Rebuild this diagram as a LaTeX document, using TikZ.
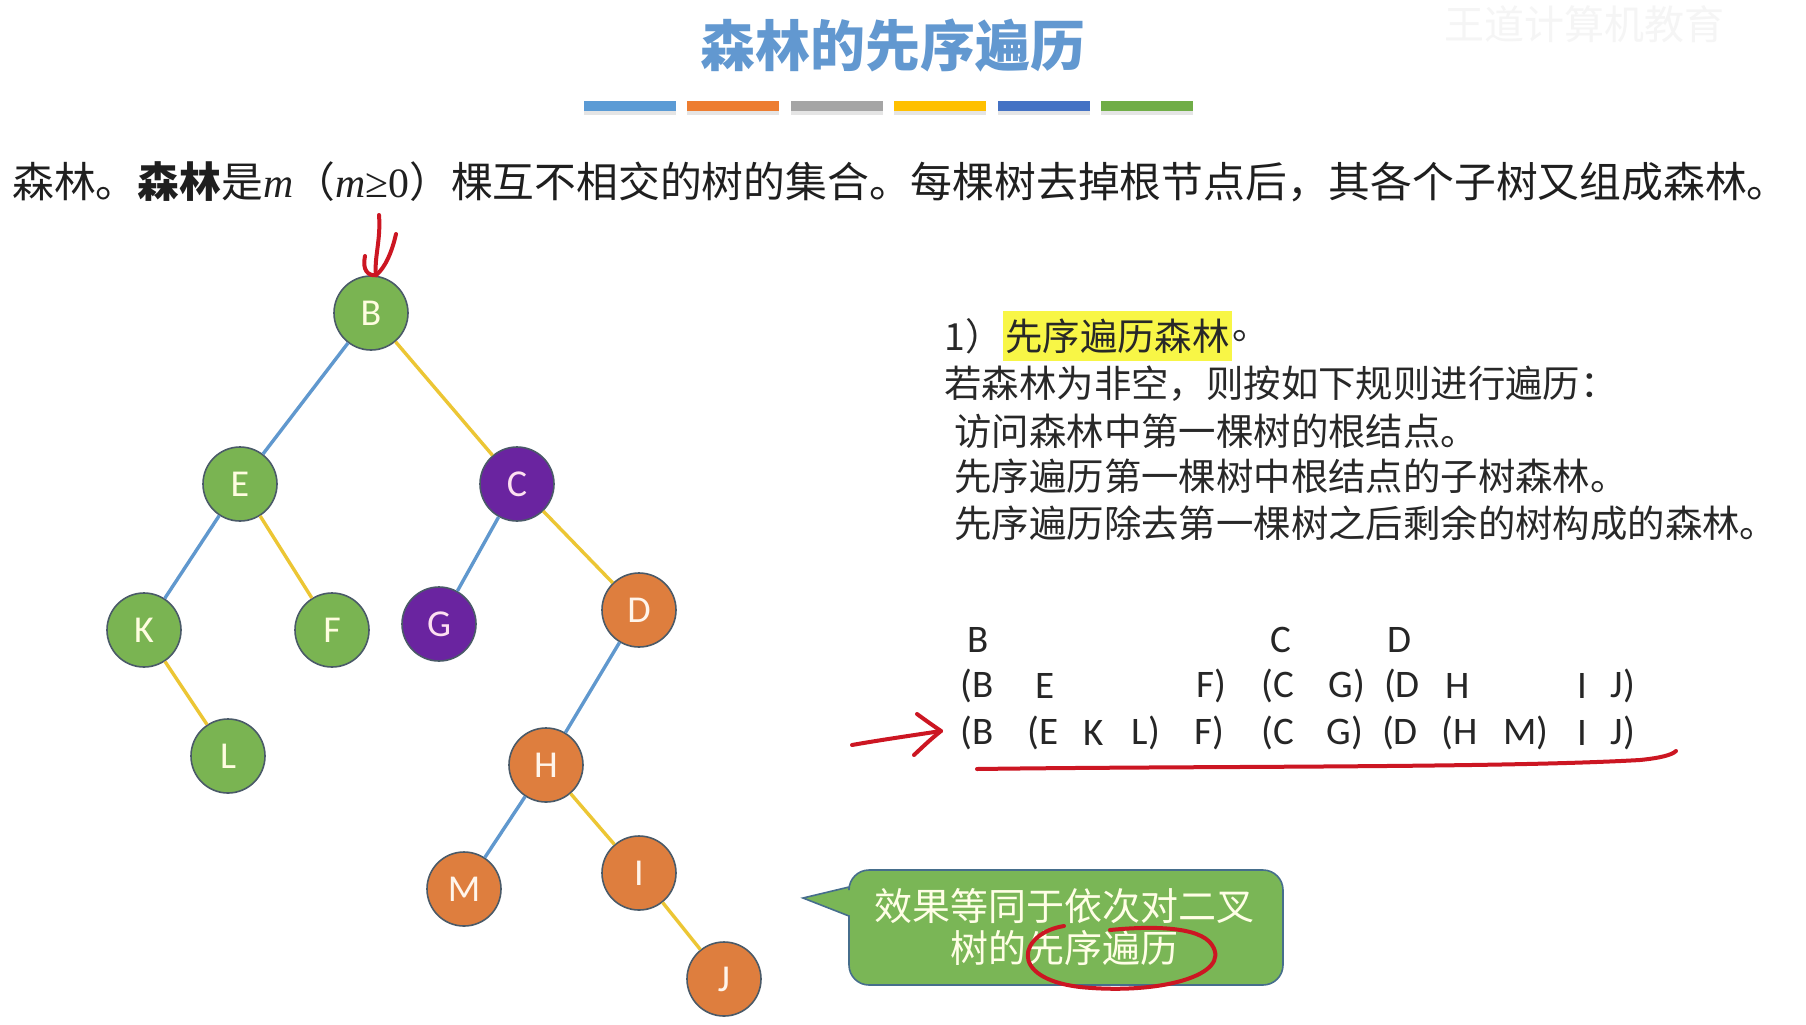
\documentclass[tikz,border=0pt]{standalone}
\usepackage{fontspec}
\newfontfamily\cjk{Noto Sans CJK SC}
\newfontfamily\lat{Carlito}
\newfontfamily\tms{Liberation Serif}
\usetikzlibrary{positioning}
\definecolor{TitleClr}{RGB}{98,152,208}
\definecolor{LeftClr}{RGB}{96,152,206}
\definecolor{RightClr}{RGB}{236,198,52}
\definecolor{GreenClr}{RGB}{122,180,82}
\definecolor{PurpleClr}{RGB}{106,36,160}
\definecolor{OrangeClr}{RGB}{222,126,62}
\definecolor{RimClr}{RGB}{74,90,104}
\definecolor{PenClr}{RGB}{204,22,34}
\definecolor{MarkClr}{RGB}{248,246,70}
\definecolor{TextClr}{RGB}{40,40,40}
\definecolor{BarA}{RGB}{91,155,213}
\definecolor{BarB}{RGB}{237,125,49}
\definecolor{BarC}{RGB}{165,165,165}
\definecolor{BarD}{RGB}{255,192,0}
\definecolor{BarE}{RGB}{68,114,196}
\definecolor{BarF}{RGB}{112,173,71}
\definecolor{BoxClr}{RGB}{122,182,86}
\definecolor{BoxRim}{RGB}{70,110,140}

\tikzset{
  vertex/.style={circle,draw=RimClr,line width=.8pt,minimum size=37pt,inner sep=0pt,
    font=\lat\fontsize{19}{19}\selectfont},
  greenv/.style={vertex,fill=GreenClr,text=yellow!12!white},
  purplev/.style={vertex,fill=PurpleClr,text=magenta!12!white},
  orangev/.style={vertex,fill=OrangeClr,text=orange!8!white},
  leftedge/.style={LeftClr,line width=1.7pt},
  rightedge/.style={RightClr,line width=1.7pt},
  pen/.style={PenClr,line width=2pt,line cap=round,line join=round},
  seq/.style={font=\lat\fontsize{19.5}{19.5}\selectfont,text=black!85,inner sep=0pt},
  body/.style={font=\cjk\fontsize{18.7}{18.7}\selectfont,text=TextClr,anchor=west,inner sep=0pt},
}

\begin{document}
\begin{tikzpicture}[x=0.5pt,y=-0.5pt]
\fill[white] (0,0) rectangle (1806,1024);
\useasboundingbox (0,0) rectangle (1806,1024);

% 水印
\node[font=\cjk\fontsize{20}{20}\selectfont,text=black!4] (mark) at (1584,24) {王道计算机教育};

% 标题与色条
\node[font=\cjk\bfseries\fontsize{27.5}{27.5}\selectfont,text=TitleClr] (title) at (893,46) {森林的先序遍历};
\foreach \c [count=\i] in {BarA,BarB,BarC,BarD,BarE,BarF}{
  \fill[black!10] ({584+(\i-1)*103.4},111) rectangle +(92,4);
  \fill[\c] ({584+(\i-1)*103.4},101) rectangle +(92,10);
}

% 森林的定义
\node[anchor=west,inner sep=0pt,font=\cjk\fontsize{20.9}{20.9}\selectfont,text=black!88] (intro) at (12,182)
  {森林。{\bfseries 森林}是{\tms\itshape m}（{\tms\itshape m}{\tms ≥0}）棵互不相交的树的集合。每棵树去掉根节点后，其各个子树又组成森林。};

% 结点
\node[greenv] (B) at (371,313) {B};
\node[greenv] (E) at (240,484) {E};
\node[purplev] (C) at (517,484) {C};
\node[greenv] (K) at (144,630) {K};
\node[greenv] (F) at (332,630) {F};
\node[purplev] (G) at (439,624) {G};
\node[orangev] (D) at (639,610) {D};
\node[greenv] (L) at (228,756) {L};
\node[orangev] (H) at (546,765) {H};
\node[orangev] (M) at (464,889) {M};
\node[orangev] (I) at (639,873) {I};
\node[orangev] (J) at (724,979) {J};

% 左孩子（蓝）与右孩子（黄）
\draw[leftedge] (B) -- (E);
\draw[leftedge] (E) -- (K);
\draw[leftedge] (C) -- (G);
\draw[leftedge] (D) -- (H);
\draw[leftedge] (H) -- (M);
\draw[rightedge] (B) -- (C);
\draw[rightedge] (E) -- (F);
\draw[rightedge] (K) -- (L);
\draw[rightedge] (C) -- (D);
\draw[rightedge] (H) -- (I);
\draw[rightedge] (I) -- (J);

% 规则说明
\node[body] (num) at (944,336) {1）};
\node[body,fill=MarkClr,inner xsep=1pt,inner ysep=4pt,right=0pt of num] (hl) {先序遍历森林};
\node[body,right=0pt of hl] (dot) {。};
\node[body] (rule1) at (944,384) {若森林为非空，则按如下规则进行遍历：};
\node[body] (rule2) at (954,431) {访问森林中第一棵树的根结点。};
\node[body] (rule3) at (954,476) {先序遍历第一棵树中根结点的子树森林。};
\node[body] (rule4) at (954,523) {先序遍历除去第一棵树之后剩余的树构成的森林。};

% 遍历序列
\foreach \x/\t [count=\i] in {978/B,1281/C,1399/D}
  \node[seq] (ra\i) at (\x,640) {\t};
\foreach \x/\t [count=\i] in {977/{(B},1045/E,1211/{F)},1278/{(C},1347/{G)},1402/{(D},1458/H,1582/I,1623/{J)}}
  \node[seq] (rb\i) at (\x,686) {\t};
\foreach \x/\t [count=\i] in {977/{(B},1043/{(E},1094/K,1146/{L)},1209/{F)},1278/{(C},1345/{G)},1400/{(D},1460/{(H},1526/{M)},1582/I,1623/{J)}}
  \node[seq] (rc\i) at (\x,733) {\t};

% 提示框
\draw[BoxRim,fill=BoxClr,line width=.8pt] (849,887) -- (803,898) -- (849,916)
  [rounded corners=10pt] -- (849,985) -- (1283,985) -- (1283,870) -- (849,870) [sharp corners] -- cycle;
\node[font=\cjk\fontsize{19}{21}\selectfont,text=yellow!10!white,align=center,inner sep=0pt] (tip) at (1064,927)
  {效果等同于依次对二叉\\树的先序遍历};

% 手写标注
\coordinate (penB) at (379,215);
\draw[pen] (penB) .. controls (381,240) and (374,258) .. ([xshift=2.5pt]B.north);
\draw[pen] (365,256) .. controls (362,270) and (368,276) .. ([xshift=2.5pt]B.north)
  .. controls (385,268) and (392,252) .. (396,234);
\coordinate (penL) at (852,745);
\draw[pen] (penL) .. controls (880,740) and (915,735) .. (941,731);
\draw[pen] (917,714) .. controls (928,722) .. (941,731) .. controls (930,740) .. (914,755);
\draw[pen] (977,769) .. controls (1200,766) and (1500,768) .. (1640,760)
  .. controls (1660,758) and (1672,755) .. (1676,751);
\draw[pen] (1064,926) .. controls (1020,933) and (1006,978) .. (1080,987)
  .. controls (1160,995) and (1232,975) .. (1212,945)
  .. controls (1200,926) and (1150,926) .. (1110,930);
\end{tikzpicture}
\end{document}
